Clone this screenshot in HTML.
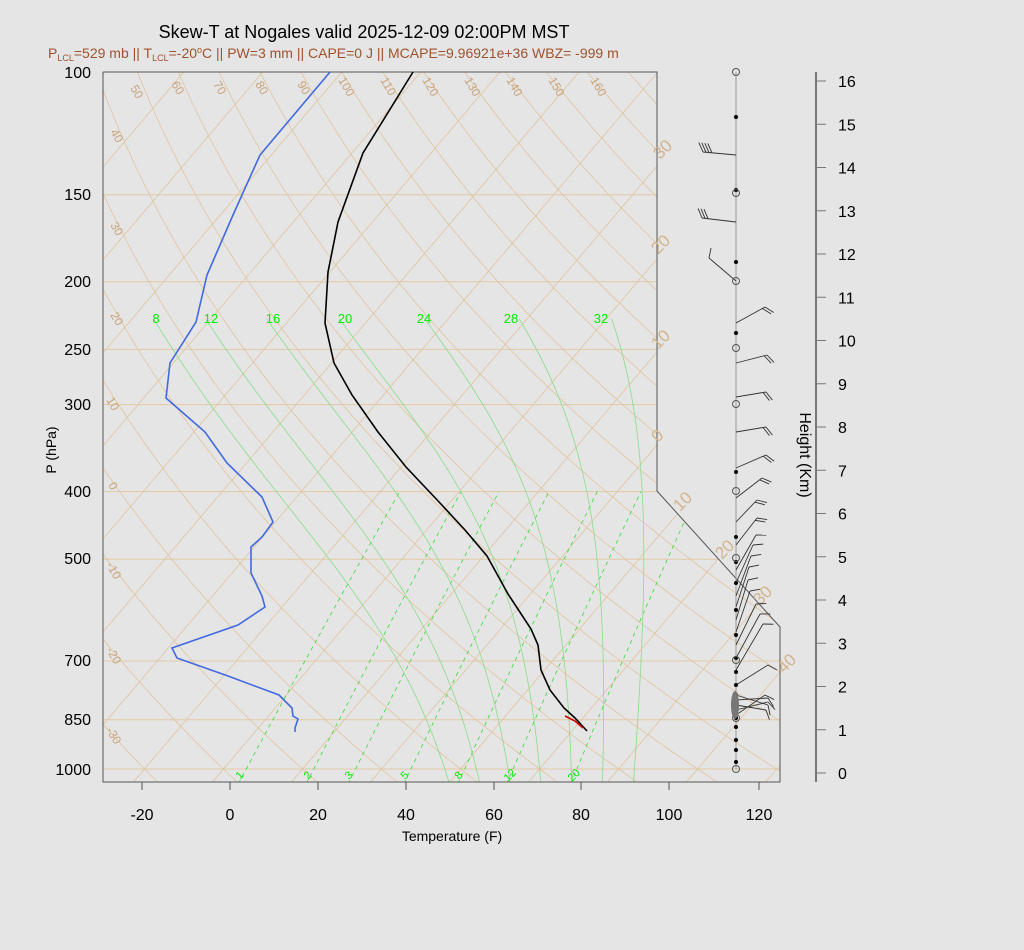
<!DOCTYPE html>
<html><head><meta charset="utf-8"><style>
html,body{margin:0;padding:0;background:#e5e5e5;}
svg{display:block;font-family:"Liberation Sans",sans-serif;}
</style></head><body>
<svg id="s" width="1024" height="950" viewBox="0 0 1024 950" xmlns="http://www.w3.org/2000/svg">
<rect width="1024" height="950" fill="#e5e5e5"/>
<defs><clipPath id="cp"><polygon points="103,72 657,72 657,491 780,627 780,782 103,782"/></clipPath></defs>
<g id="bg" clip-path="url(#cp)"></g>
<polyline points="103,72 657,72 657,491 780,627 780,782 103,782 103,72" fill="none" stroke="#555" stroke-width="1"/>
<!-- titles -->
<text x="364" y="38" font-size="18" text-anchor="middle" fill="#000">Skew-T at Nogales valid 2025-12-09 02:00PM MST</text>
<text x="48" y="58" font-size="14" fill="#a0522d">P<tspan font-size="9" dy="3">LCL</tspan><tspan dy="-3">=529 mb || T</tspan><tspan font-size="9" dy="3">LCL</tspan><tspan dy="-3">=-20</tspan><tspan font-size="9" dy="-5">o</tspan><tspan dy="5">C || PW=3 mm || CAPE=0 J || MCAPE=9.96921e+36 WBZ= -999 m</tspan></text>
<!-- pressure labels -->
<g font-size="16" text-anchor="end" fill="#000">
<text x="91" y="78">100</text><text x="91" y="200">150</text><text x="91" y="287">200</text><text x="91" y="355">250</text><text x="91" y="410">300</text><text x="91" y="497">400</text><text x="91" y="564">500</text><text x="91" y="666">700</text><text x="91" y="725">850</text><text x="91" y="775">1000</text>
</g>
<text x="56" y="450" font-size="14" text-anchor="middle" transform="rotate(-90 56 450)">P (hPa)</text>
<g font-size="16" text-anchor="middle" fill="#000">
<text x="142" y="820">-20</text><text x="230" y="820">0</text><text x="318" y="820">20</text><text x="406" y="820">40</text><text x="494" y="820">60</text><text x="581" y="820">80</text><text x="669" y="820">100</text><text x="759" y="820">120</text>
</g>
<g stroke="#555"><line x1="142" y1="782" x2="142" y2="790"/><line x1="230" y1="782" x2="230" y2="790"/><line x1="318" y1="782" x2="318" y2="790"/><line x1="406" y1="782" x2="406" y2="790"/><line x1="494" y1="782" x2="494" y2="790"/><line x1="581" y1="782" x2="581" y2="790"/><line x1="669" y1="782" x2="669" y2="790"/><line x1="759" y1="782" x2="759" y2="790"/></g>
<text x="452" y="841" font-size="14" text-anchor="middle">Temperature (F)</text>
<!-- dry adiabat labels -->
<g font-size="12" fill="#c8a47c">
<text transform="translate(130,88) rotate(60)">50</text><text transform="translate(171,84) rotate(60)">60</text><text transform="translate(213,84) rotate(60)">70</text><text transform="translate(255,84) rotate(60)">80</text><text transform="translate(297,84) rotate(60)">90</text><text transform="translate(338,80) rotate(60)">100</text><text transform="translate(380,80) rotate(60)">110</text><text transform="translate(422,80) rotate(60)">120</text><text transform="translate(464,80) rotate(60)">130</text><text transform="translate(506,80) rotate(60)">140</text><text transform="translate(548,80) rotate(60)">150</text><text transform="translate(590,80) rotate(60)">160</text>
<text transform="translate(110,132) rotate(60)">40</text><text transform="translate(110,225) rotate(60)">30</text><text transform="translate(110,315) rotate(60)">20</text><text transform="translate(106,400) rotate(60)">10</text><text transform="translate(108,485) rotate(60)">0</text><text transform="translate(106,565) rotate(60)">-10</text><text transform="translate(106,650) rotate(60)">-20</text><text transform="translate(106,730) rotate(60)">-30</text>
</g>
<g font-size="17" fill="#d2b48c">
<text transform="translate(660,160) rotate(-45)">30</text><text transform="translate(658,255) rotate(-45)">20</text><text transform="translate(658,350) rotate(-45)">10</text><text transform="translate(658,443) rotate(-45)">0</text><text transform="translate(680,512) rotate(-45)">10</text><text transform="translate(722,560) rotate(-45)">20</text><text transform="translate(760,606) rotate(-45)">30</text><text transform="translate(784,674) rotate(-45)">40</text>
</g>
<g font-size="13" fill="#00ee00" text-anchor="middle">
<text x="156" y="323">8</text><text x="211" y="323">12</text><text x="273" y="323">16</text><text x="345" y="323">20</text><text x="424" y="323">24</text><text x="511" y="323">28</text><text x="601" y="323">32</text>
</g>
<g font-size="11" fill="#00ee00">
<text transform="translate(240,780) rotate(-45)">1</text><text transform="translate(308,780) rotate(-45)">2</text><text transform="translate(349,780) rotate(-45)">3</text><text transform="translate(405,780) rotate(-45)">5</text><text transform="translate(459,780) rotate(-45)">8</text><text transform="translate(508,782) rotate(-45)">12</text><text transform="translate(572,782) rotate(-45)">20</text>
</g>
<!-- profiles -->
<polyline fill="none" stroke="#4169e1" stroke-width="1.6" points="330,72 260,155 233,215 207,275 196,322 170,363 166,398 205,432 227,463 262,497 273,522 262,537 251,547 251,573 262,596 265,607 238,625 172,648 177,658 228,676 279,695 292,708 293,716 298,719 295,728 295,732"/>
<polyline fill="none" stroke="#000" stroke-width="1.6" points="413,72 363,153 338,222 328,272 325,323 334,363 352,395 378,432 406,467 440,503 465,530 487,556 508,594 531,629 538,645 541,670 550,690 564,708 575,718 587,731"/>
<polyline fill="none" stroke="#d00000" stroke-width="1.6" points="565,716 575,721 583,728"/>
<!-- wind column -->
<line x1="736" y1="72" x2="736" y2="770" stroke="#999"/>
<g id="wind"></g>
<ellipse cx="735" cy="705" rx="4" ry="14" fill="#777"/>
<!-- height axis -->
<line x1="816" y1="72" x2="816" y2="782" stroke="#777" stroke-width="2"/>
<g id="hax" font-size="16"></g>
<text x="800" y="455" font-size="16" text-anchor="middle" transform="rotate(90 800 455)">Height (Km)</text>
</svg>
<script>
var NS="http://www.w3.org/2000/svg";
function el(p,t,a){var e=document.createElementNS(NS,t);for(var k in a)e.setAttribute(k,a[k]);p.appendChild(e);return e;}
function Y(p){return 72+697*Math.log10(p/100);}
function X(tc,y){var tf=tc*9/5+32;return 230+4.39*tf+0.85*(782-y);}
var bg=document.getElementById('bg');
function path(pts,st,w,dash){var d='';pts.forEach(function(q,i){d+=(i?'L':'M')+q[0].toFixed(1)+','+q[1].toFixed(1);});var a={d:d,fill:'none',stroke:st,'stroke-width':w};if(dash)a['stroke-dasharray']=dash;el(bg,'path',a);}
[100,150,200,250,300,400,500,700,850,1000].forEach(function(p){var y=Y(p);path([[103,y],[790,y]],'#e3c9a5',1);});
for(var t=-150;t<=60;t+=10){path([[X(t,782),782],[X(t,72),72]],'#e0c49e',0.8);}
for(var th=-40;th<=200;th+=10){var pts=[];for(var p=1050;p>=95;p-=10){var T=(th+273.15)*Math.pow(p/1000,0.286)-273.15;var y=Y(p);pts.push([X(T,y),y]);}path(pts,'#e0c49e',0.8);}
function es(tc){return 6.112*Math.exp(17.67*tc/(tc+243.5));}
[1,2,3,5,8,12,20].forEach(function(w){var pts=[];for(var p=1050;p>=400;p-=10){var e=w*p/(622+w);var l=Math.log(e/6.112);var T=243.5*l/(17.67-l);var y=Y(p);pts.push([X(T,y),y]);}path(pts,'#33dd33',0.8,'4,4');});
[8,12,16,20,24,28,32].forEach(function(tw){var T,p,pts=[];
 function rate(T,p){var tc=T-273.15;var e=es(tc);var r=0.622*e/(p-e);var L=2.5e6;return (287*T+L*r)/(1004+L*L*r*0.622/(287*T*T))/p;}
 T=tw+273.15;p=1000;var dp=2;for(var i=0;i<25;i++){T+=rate(T,p)*dp;p+=dp;}
 while(p>=225){var y=Y(p);pts.push([X(T-273.15,y),y]);T-=rate(T,p)*dp;p-=dp;}
 path(pts,'#88dd88',0.8);});
var wg=document.getElementById('wind');
var barbs=[[155,703,152,4],[222,702,218,3],[281,709,258,1],[323,765,307,2],[363,767,355,2],[397,766,392,2],[432,766,427,2],[468,766,455,2],[498,762,478,2],[522,757,500,2],[545,757,518,2],[570,756,535,1],[583,753,545,1],[596,751,556,1],[607,749,567,1],[620,748,580,1],[632,750,591,1],[645,756,604,1],[658,760,614,1],[670,763,624,1],[685,768,665,1],[695,768,705,1],[700,768,698,1],[705,766,710,1],[710,768,702,1],[715,765,695,1]];
barbs.forEach(function(b){var x0=736,y0=b[0],x1=b[1],y1=b[2];el(wg,'line',{x1:x0,y1:y0,x2:x1,y2:y1,stroke:'#333','stroke-width':0.9});
 var dx=x1-x0,dy=y1-y0,L=Math.hypot(dx,dy);dx/=L;dy/=L;var nx=-dy,ny=dx;
 for(var i=0;i<b[3];i++){var px=x1-dx*3*i,py=y1-dy*3*i;el(wg,'line',{x1:px,y1:py,x2:px+dx*5+nx*9,y2:py+dy*5+ny*9,stroke:'#333','stroke-width':0.9});}});
[117,190,262,333,472,537,562,583,610,635,658,672,685,695,705,712,718,727,740,750,762].forEach(function(y){el(wg,'circle',{cx:736,cy:y,r:2,fill:'#000'});});
[72,193,281,348,404,491,558,660,718,769].forEach(function(y){el(wg,'circle',{cx:736,cy:y,r:3.5,fill:'none',stroke:'#555'});});
var h=document.getElementById('hax');
for(var k=0;k<=16;k++){var y=773-k*43.25;el(h,'line',{x1:816,y1:y,x2:826,y2:y,stroke:'#777'});var t=el(h,'text',{x:838,y:y+6});t.textContent=k;}
</script>
</body></html>
